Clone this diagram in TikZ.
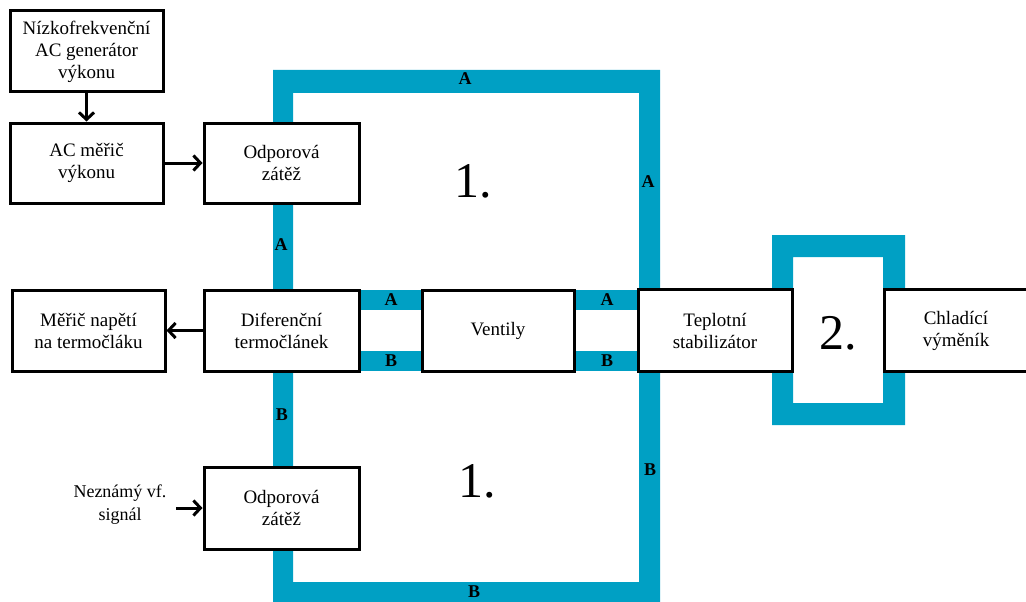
\documentclass[tikz,border=0pt]{standalone}
\usepackage{fontspec}
\setmainfont{Liberation Serif}
\usetikzlibrary{arrows.meta}
\definecolor{pipe}{RGB}{0,160,196}
\tikzset{
  blk/.style={draw=black, line width=3pt, fill=white, align=center, inner sep=0pt,
    font=\fontsize{19}{22}\selectfont},
  lbl/.style={font=\fontsize{18}{20}\selectfont\bfseries, inner sep=0pt},
  big/.style={font=\fontsize{50}{50}\selectfont, inner sep=0pt},
  arr/.style={line width=3pt, -{Straight Barb[length=7pt,width=15pt,line width=3pt]}},
  pipefill/.style={fill=pipe, even odd rule}
}
\begin{document}
\begin{tikzpicture}[x=1pt,y=-1pt]
\useasboundingbox (0,0) rectangle (1026,602);
% blue loops
\fill[pipefill] (273,70) rectangle (660,604) (293,93) rectangle (639,582);
\fill[pipefill] (772,235) rectangle (905,425) (793,257) rectangle (883,403);
\fill[pipe] (355,290) rectangle (426,310);
\fill[pipe] (355,351) rectangle (426,371);
\fill[pipe] (570,290) rectangle (642,310);
\fill[pipe] (570,351) rectangle (642,371);
% boxes
\node[blk, minimum width=153pt, minimum height=81pt] (gen) at (86.5,51.5) {Nízkofrekvenční\\AC generátor\\výkonu};
\node[blk, minimum width=153pt, minimum height=80pt] (acm) at (86.5,163) {AC měřič\\výkonu};
\node[blk, minimum width=155pt, minimum height=80pt] (odp1) at (281.5,163) {Odporová\\zátěž};
\node[blk, minimum width=153pt, minimum height=81pt] (mer) at (88.5,330.5) {Měřič napětí\\na termočláku};
\node[blk, minimum width=155pt, minimum height=81pt] (dif) at (281.5,330.5) {Diferenční\\termočlánek};
\node[blk, minimum width=152pt, minimum height=81pt] (ven) at (498,330.5) {Ventily};
\node[blk, minimum width=154pt, minimum height=82pt] (tep) at (715,330.5) {Teplotní\\stabilizátor};
\node[blk, minimum width=144pt, minimum height=82pt] (chl) at (956,330.5) {Chladící\\výměník};
\node[blk, minimum width=155pt, minimum height=82pt] (odp2) at (281.5,508) {Odporová\\zátěž};
\node[align=center, inner sep=0pt, font=\fontsize{18}{23}\selectfont] (sig) at (120,505) {Neznámý vf.\\signál};
\coordinate (sigend) at (176,508);
% arrows
\draw[arr] (gen.south) -- (acm.north);
\draw[arr] (acm.east) -- (odp1.west);
\draw[arr] (dif.west) -- (mer.east);
\draw[arr] (sigend) -- (sigend -| odp2.west);
% labels
\node[lbl] (la1) at (465,79) {A};
\node[lbl] (la2) at (281,245) {A};
\node[lbl] (la3) at (648,182) {A};
\node[lbl] (la4) at (391,300) {A};
\node[lbl] (la5) at (607,300) {A};
\node[lbl] (lb4) at (391,361) {B};
\node[lbl] (lb5) at (607,361) {B};
\node[lbl] (lb2) at (282,415) {B};
\node[lbl] (lb3) at (650,470) {B};
\node[lbl] (lb1) at (474,592) {B};
\node[big] (one1) at (473,181) {1.};
\node[big] (one2) at (477,481) {1.};
\node[big] (two) at (838,333) {2.};
\end{tikzpicture}
\end{document}
